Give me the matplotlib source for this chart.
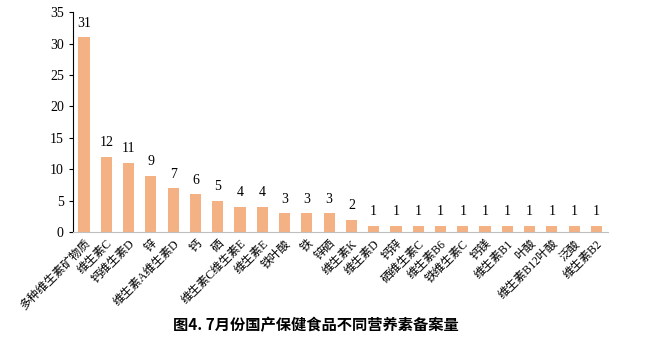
import matplotlib.pyplot as plt

plt.rcParams['font.family'] = ['Liberation Serif', 'Noto Sans CJK SC']

# nutrient categories and filing counts
categories = ['多种维生素矿物质', '维生素C', '钙维生素D', '锌', '维生素A维生素D', '钙', '硒',
              '维生素C维生素E', '维生素E', '铁叶酸', '铁', '锌硒', '维生素K', '维生素D',
              '钙锌', '硒维生素C', '维生素B6', '铁维生素C', '钙镁', '维生素B1', '叶酸',
              '维生素B12叶酸', '泛酸', '维生素B2']
counts = [31, 12, 11, 9, 7, 6, 5, 4, 4, 3, 3, 3, 2, 1, 1, 1, 1, 1, 1, 1, 1, 1, 1, 1]

fig = plt.figure(figsize=(6.45, 3.46), dpi=100)
ax = fig.add_axes([0.113, 0.329, 0.829, 0.636])

x = range(len(categories))
ax.bar(x, counts, width=0.5, color='#F4B183')
for xi, v in zip(x, counts):
    ax.text(xi, v + 1.2, str(v), ha='center', va='bottom', fontsize=10)

ax.set_xlim(-0.5, len(categories) - 0.5)
ax.set_ylim(0, 35)
ax.set_yticks(range(0, 36, 5))
ax.tick_params(axis='y', labelsize=10, length=3, direction='out')
ax.tick_params(axis='x', length=0, pad=4)
ax.set_xticks(list(x))
ax.set_xticklabels(categories, rotation=45, ha='right', va='top',
                   rotation_mode='anchor', fontsize=8.5)
for spine in ['top', 'right']:
    ax.spines[spine].set_visible(False)
ax.spines['bottom'].set_color('#BFBFBF')

fig.text(0.49, 0.06, '图4. 7月份国产保健食品不同营养素备案量', ha='center', va='center',
         fontsize=11, fontweight='bold', family=['Noto Sans CJK SC'])

fig.savefig('out.png', dpi=100)
